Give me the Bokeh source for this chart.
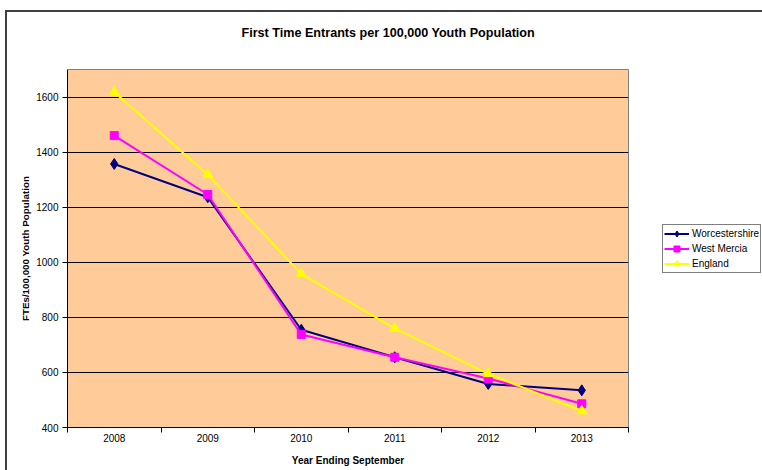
from bokeh.plotting import figure
from bokeh.layouts import row
from bokeh.models import Range1d, FixedTicker, Legend, LegendItem, LinearAxis
from bokeh.embed import file_html
from bokeh.resources import INLINE

years = ["2008", "2009", "2010", "2011", "2012", "2013"]
worcestershire = [1357, 1236, 755, 655, 558, 535]
west_mercia = [1460, 1246, 738, 655, 578, 486]
england = [1618, 1318, 958, 760, 595, 460]
y_ticks = [400, 600, 800, 1000, 1200, 1400, 1600]
y_min, y_max = 400, 1700

FONT = "Liberation Sans"
n = len(years)
x = [i + 0.5 for i in range(n)]

p = figure(width=622, height=458, output_backend="svg", toolbar_location=None,
           x_range=Range1d(0, n), y_range=Range1d(y_min, y_max),
           min_border_left=60, min_border_right=1, min_border_top=57, min_border_bottom=43,
           background_fill_color="#FFCC99", border_fill_color="white",
           outline_line_color="#808080", outline_line_width=1)

xa = p.below[0]
ya = p.left[0]

# invisible spacer axis above so the title sits higher
spacer = LinearAxis(ticker=FixedTicker(ticks=[0], minor_ticks=[]),
                    major_label_overrides={0: ""},
                    axis_line_color=None, major_tick_line_color="white",
                    minor_tick_line_color=None, major_tick_out=25, major_tick_in=0,
                    minor_tick_out=0, major_label_standoff=0,
                    major_label_text_font_size="1px")
p.add_layout(spacer, "above")

p.title.text = "First Time Entrants per 100,000 Youth Population"
p.title.text_font = FONT
p.title.text_font_size = "12.6px"
p.title.text_font_style = "bold"
p.title.text_color = "black"
p.title.align = "left"
p.title.vertical_align = "bottom"
p.title.offset = 174
p.title.standoff = 10

# axes
xa.ticker = FixedTicker(ticks=x, minor_ticks=list(range(n + 1)))
xa.major_label_overrides = {xi: y for xi, y in zip(x, years)}
xa.major_tick_line_color = None
xa.major_tick_out = 5
xa.major_tick_in = 0
xa.minor_tick_line_color = "black"
xa.minor_tick_out = 5
xa.minor_tick_in = 0
xa.major_label_standoff = 1
xa.major_label_text_font = FONT
xa.major_label_text_font_size = "10px"
xa.major_label_text_color = "black"
xa.axis_line_color = "black"
xa.axis_label = "Year Ending September"
xa.axis_label_text_font = FONT
xa.axis_label_text_font_size = "10px"
xa.axis_label_text_font_style = "bold"
xa.axis_label_text_color = "black"
xa.axis_label_standoff = 10

ya.ticker = FixedTicker(ticks=y_ticks, minor_ticks=[])
ya.major_tick_out = 5
ya.major_tick_in = 0
ya.major_tick_line_color = "black"
ya.minor_tick_line_color = None
ya.major_label_standoff = 4
ya.major_label_text_font = FONT
ya.major_label_text_font_size = "10px"
ya.major_label_text_color = "black"
ya.axis_line_color = "black"
ya.axis_label = "FTEs/100,000 Youth Population"
ya.axis_label_text_font = FONT
ya.axis_label_text_font_size = "9.8px"
ya.axis_label_text_font_style = "bold"
ya.axis_label_text_color = "black"
ya.axis_label_standoff = 2

p.xgrid.grid_line_color = None
p.ygrid.grid_line_color = "black"
p.ygrid.grid_line_width = 1

series = [
    ("Worcestershire", worcestershire, "#000080", "diamond", 11),
    ("West Mercia", west_mercia, "#FF00FF", "square", 8),
    ("England", england, "#FFFF00", "triangle", 10),
]
for name, vals, col, mk, sz in series:
    p.line(x, vals, line_color=col, line_width=2)
    p.scatter(x, vals, marker=mk, size=sz, fill_color=col, line_color=col)

# legend panel to the right of the plot (its series lie outside its ranges)
lg = figure(width=133, height=458, output_backend="svg", toolbar_location=None,
            x_range=Range1d(0, 1), y_range=Range1d(0, 1),
            x_axis_location=None, y_axis_location=None,
            min_border_left=0, min_border_right=0, min_border_top=0, min_border_bottom=0,
            outline_line_color=None, background_fill_color="white", border_fill_color="white")
lg.xgrid.visible = False
lg.ygrid.visible = False
items = []
for name, vals, col, mk, sz in series:
    ln = lg.line(x, vals, line_color=col, line_width=2)
    sc = lg.scatter(x, vals, marker=mk, size=sz, fill_color=col, line_color=col)
    items.append(LegendItem(label=name, renderers=[ln, sc]))

legend = Legend(items=items, location=(33, 154),
                label_text_font=FONT, label_text_font_size="10px", label_text_color="black",
                glyph_width=25, glyph_height=15, label_height=15, label_standoff=3,
                spacing=0, padding=1, margin=0,
                border_line_color="black", border_line_width=1,
                background_fill_color="white", background_fill_alpha=1)
lg.add_layout(legend, "center")

layout = row(p, lg, spacing=0,
             styles={"margin-left": "5px", "margin-top": "10px",
                     "border-left": "2px solid #404040", "border-top": "2px solid #404040"})

open("out.html", "w").write(file_html(layout, INLINE))
